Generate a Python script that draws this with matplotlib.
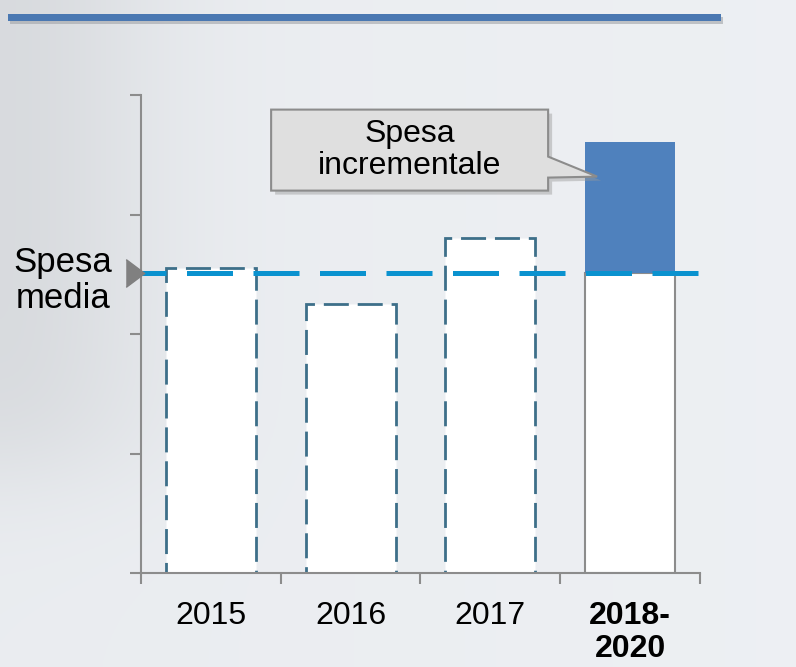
import numpy as np
import matplotlib
matplotlib.use("Agg")
import matplotlib.pyplot as plt
from matplotlib.patches import Rectangle, Polygon

plt.rcParams['font.family'] = ['Liberation Sans', 'DejaVu Sans']

# --- data ---
categories = ['2015', '2016', '2017', '2018-\n2020']
spesa = [2.55, 2.25, 2.80, 3.61]      # bar heights (axis units, no labels shown)
spesa_media = 2.51                     # average spend (dashed line)

W, H = 796, 667
fig = plt.figure(figsize=(W / 100, H / 100), dpi=100)

# background: soft grey gradient standing in for the photo
bg = fig.add_axes([0, 0, 1, 1], zorder=-10)
xx = np.linspace(0, 1, 300)
yy = np.linspace(0, 1, 300)      # 0 = top
X, Y = np.meshgrid(xx, yy)
left_dark = np.exp(-((X - 0.0) / 0.2) ** 2) / (1 + np.exp((Y - 0.7) / 0.05))
shade = 0.93 - 0.07 * left_dark + 0.012 * X
rgb = np.dstack([shade - 0.012, shade - 0.002, shade + 0.012]).clip(0, 1)
bg.imshow(rgb, extent=[0, 1, 0, 1], aspect='auto', origin='upper')
bg.set_axis_off()

# header rule
fig.add_artist(Rectangle((10 / W, 1 - 24 / H), 713 / W, 7 / H, transform=fig.transFigure,
                         facecolor='#a0a3a8', edgecolor='none', alpha=0.6))
fig.add_artist(Rectangle((8 / W, 1 - 21 / H), 713 / W, 7 / H, transform=fig.transFigure,
                         facecolor='#4a78b2', edgecolor='none'))

ax = fig.add_axes([141 / W, 94 / H, 559 / W, 478 / H])
ax.patch.set_alpha(0)
ax.set_xlim(-0.5, 3.5)
ax.set_ylim(0, 4)

x = np.arange(len(categories))
bw = 0.644

# past years: white bars with dashed outline
for i in range(3):
    ax.bar(x[i], spesa[i], width=bw, color='white', edgecolor='#3d6f89',
           linewidth=2, linestyle=(0, (9, 3.2)), zorder=2)

# 2018-2020: white up to the average, blue increment above
ax.bar(x[3], spesa_media, width=bw, color='white', edgecolor='#8c8c8c',
       linewidth=1.5, zorder=2)
ax.bar(x[3], spesa[3] - spesa_media, bottom=spesa_media, width=bw,
       color='#4f81bd', edgecolor='none', zorder=2)

# average line
ax.axhline(spesa_media, color='#0a92cf', linewidth=3.6, linestyle=(4.2, (9.2, 4.1)),
           zorder=4, clip_on=False)

# triangle marker on the axis
ax.plot([-0.5 - 6.5 / 139.75], [spesa_media], marker=[(-1, -1.5), (1, 0), (-1, 1.5)],
        markersize=20, color='#808080', clip_on=False, zorder=5)

ax.text(-0.5 - 78 / 139.75, spesa_media - 0.06, 'Spesa\nmedia', ha='center', va='center',
        fontsize=25, linespacing=1.12, clip_on=False)

# callout
px = 139.75
py = 119.5
tip = (x[3] - 0.5 * bw + 12 / px, spesa[3] - 35 / py)
box_l, box_r = tip[0] - 326 / px, tip[0] - 49 / px
box_t, box_b = spesa[3] + 32 / py, spesa[3] - 49 / py
callout = [(box_l, box_t), (box_r, box_t), (box_r, tip[1] + 20 / py), tip,
           (box_r, tip[1] - 1 / py), (box_r, box_b), (box_l, box_b)]
shadow = [(a + 4 / px, b - 4 / py) for a, b in callout]
ax.add_patch(Polygon(shadow, closed=True, facecolor='#9a9a9a', edgecolor='none',
                     alpha=0.45, zorder=5, clip_on=False))
ax.add_patch(Polygon(callout, closed=True, facecolor='#dfdfdf', edgecolor='#8c8c8c',
                     linewidth=1.5, zorder=6, clip_on=False))
ax.text((box_l + box_r) / 2, (box_t + box_b) / 2, 'Spesa\nincrementale', ha='center',
        va='center', fontsize=23, linespacing=1.1, zorder=7, clip_on=False)

# axes styling
for s in ['top', 'right']:
    ax.spines[s].set_visible(False)
for s in ['left', 'bottom']:
    ax.spines[s].set_color('#8c8c8c')
    ax.spines[s].set_linewidth(1.5)

ax.set_xticks(np.arange(-0.5, 4, 1))
ax.set_xticklabels([])
ax.set_yticks(np.arange(0, 5, 1))
ax.set_yticklabels([])
ax.tick_params(axis='both', which='major', direction='out', length=8, width=1.5,
               color='#8c8c8c')
ax.set_xticks(x, minor=True)
ax.set_xticklabels(categories, minor=True, fontsize=23, linespacing=1.15, va='top')
ax.tick_params(axis='x', which='minor', length=0, pad=20)
ax.get_xticklabels(minor=True)[-1].set_fontweight('bold')

fig.savefig('out.png', dpi=100)
